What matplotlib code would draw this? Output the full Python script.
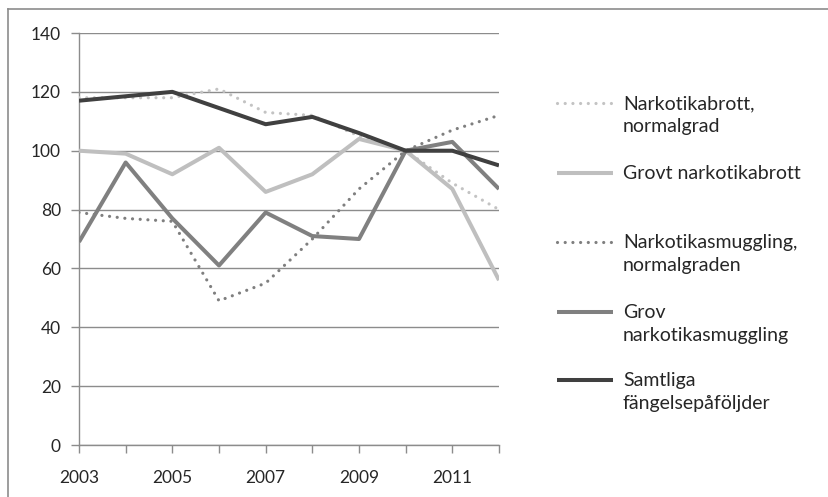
import matplotlib
matplotlib.use("Agg")
import matplotlib.pyplot as plt
from matplotlib.lines import Line2D

plt.rcParams['font.family'] = ['Lato', 'DejaVu Sans']

years = [2003, 2004, 2005, 2006, 2007, 2008, 2009, 2010, 2011, 2012]
tick_labels = ['2003', '', '2005', '', '2007', '', '2009', '', '2011', '']

narkotikabrott_normal = [118, 118, 118, 121, 113, 112, 105, 100, 89, 80]
grovt_narkotikabrott = [100, 99, 92, 101, 86, 92, 104, 100, 87, 56]
smuggling_normal = [79, 77, 76, 49, 55, 70, 87, 100, 107, 112]
grov_smuggling = [69, 96, 77, 61, 79, 71, 70, 100, 103, 87]
samtliga = [117, 118.5, 120, 114.5, 109, 111.5, 106, 100, 100, 95]

series = [
    ("Narkotikabrott,\nnormalgrad", narkotikabrott_normal, '#c3c3c3', 'dot'),
    ("Grovt narkotikabrott", grovt_narkotikabrott, '#bfbfbf', 'solid'),
    ("Narkotikasmuggling,\nnormalgraden", smuggling_normal, '#7f7f7f', 'dot'),
    ("Grov\nnarkotikasmuggling", grov_smuggling, '#808080', 'solid'),
    ("Samtliga\nfängelsepåföljder", samtliga, '#404040', 'solid'),
]

W, H = 829, 497
fig = plt.figure(figsize=(W / 100, H / 100), dpi=100)
ax = fig.add_axes([79 / W, (H - 445) / H, 420 / W, 412 / H])

def style(kind):
    if kind == 'dot':
        return dict(linewidth=2.3, linestyle=(0, (0.01, 2.4)), dash_capstyle='round')
    return dict(linewidth=2.9, linestyle='-', solid_capstyle='butt')

for label, vals, color, kind in series:
    ax.plot(years, vals, color=color, zorder=3, **style(kind))

ax.set_xlim(2003, 2012)
ax.set_ylim(0, 140)
ax.set_yticks(range(0, 141, 20))
ax.set_xticks(years)
ax.set_xticklabels(tick_labels)
ax.grid(axis='y', color='#8c8c8c', linewidth=1.0, zorder=1)
ax.set_axisbelow(True)
for s in ['top', 'right']:
    ax.spines[s].set_visible(False)
for s in ['left', 'bottom']:
    ax.spines[s].set_color('#8c8c8c')
    ax.spines[s].set_linewidth(1.0)
ax.tick_params(axis='both', colors='#8c8c8c', length=6, width=1.0, labelsize=12.5,
               labelcolor='#262626')
ax.tick_params(axis='y', pad=7)
ax.tick_params(axis='x', pad=12)

# outer frame (left and top edges)
fig.add_artist(Line2D([8 / W, 8 / W], [0, 1 - 9 / H], transform=fig.transFigure,
                      color='#8c8c8c', linewidth=1.2))
fig.add_artist(Line2D([8 / W, 1], [1 - 9 / H, 1 - 9 / H], transform=fig.transFigure,
                      color='#8c8c8c', linewidth=1.2))

# legend
legend_y = [103, 173, 242, 312, 380]
for (label, vals, color, kind), yy in zip(series, legend_y):
    fy = 1 - yy / H
    fig.add_artist(Line2D([557 / W, 613 / W], [fy, fy], transform=fig.transFigure,
                          color=color, **style(kind)))
    fig.text(623 / W, fy + 8 / H, label, ha='left', va='top', fontsize=14,
             color='#262626', linespacing=1.42)

fig.savefig('out.png', dpi=100)
